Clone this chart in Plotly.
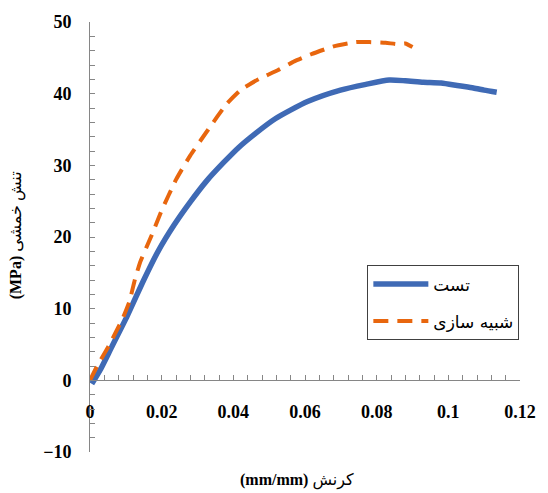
import plotly.graph_objects as go

# Test (experimental) curve
test_strain = [0.0005, 0.003, 0.006, 0.0104, 0.015, 0.019, 0.0235, 0.028, 0.0325, 0.0373,
               0.0415, 0.0463, 0.0517, 0.0607, 0.0699, 0.077, 0.0835, 0.088, 0.093,
               0.098, 0.103, 0.107, 0.110, 0.1135]
test_stress = [-0.5, 1.6, 4.6, 9.0, 14.0, 18.0, 21.7, 24.9, 27.8, 30.4,
               32.5, 34.5, 36.5, 38.9, 40.5, 41.3, 41.9, 41.8, 41.6,
               41.5, 41.1, 40.8, 40.5, 40.2]

# Simulation curve
sim_strain = [0.0, 0.002, 0.005, 0.009, 0.011, 0.0125, 0.014, 0.017, 0.020, 0.024,
              0.028, 0.033, 0.038, 0.042, 0.047, 0.0525, 0.057, 0.0617, 0.068,
              0.0743, 0.078, 0.0825, 0.086, 0.088, 0.090]
sim_stress = [0.0, 2.0, 4.6, 8.5, 11.0, 14.0, 16.5, 20.0, 23.7, 28.0,
              31.4, 35.0, 38.5, 40.5, 42.0, 43.3, 44.5, 45.5, 46.6,
              47.2, 47.2, 47.1, 46.9, 47.0, 46.5]

series_names = ["تست", "شبیه سازی"]
x_ticks = [0, 0.02, 0.04, 0.06, 0.08, 0.1, 0.12]
x_tick_text = ["0", "0.02", "0.04", "0.06", "0.08", "0.1", "0.12"]
y_ticks = [-10, 0, 10, 20, 30, 40, 50]

x_title = "<b>(mm/mm)</b> کرنش"
y_title = "<b>(MPa)</b> تنش خمشی"

fig = go.Figure()
fig.add_trace(go.Scatter(x=test_strain, y=test_stress, mode="lines", name=series_names[0],
                         legendgroup="a",
                         line=dict(color="#3F6AB5", width=5.5, shape="spline", smoothing=0.6)))
fig.add_trace(go.Scatter(x=sim_strain, y=sim_stress, mode="lines", name=series_names[1],
                         legendgroup="b",
                         line=dict(color="#E8660E", width=4, dash="15px,9px",
                                   shape="spline", smoothing=0.4)))

tick_font = dict(family="Liberation Serif", size=18, color="black", weight="bold")

fig.update_layout(
    width=548, height=493,
    margin=dict(l=90, r=17, t=22, b=41),
    paper_bgcolor="white", plot_bgcolor="white",
    showlegend=True,
    legend=dict(x=0.645, y=0.434, xanchor="left", yanchor="top",
                bordercolor="#404040", borderwidth=1, bgcolor="white",
                font=dict(family="DejaVu Sans", size=17, color="black"),
                itemwidth=55, tracegroupgap=12),
    xaxis=dict(range=[0, 0.12], tickvals=x_ticks, ticktext=x_tick_text,
               anchor="free", position=10/60,
               showgrid=False, zeroline=False, showline=True,
               linecolor="#868686", linewidth=1,
               ticks="inside", ticklen=5, tickcolor="#868686",
               minor=dict(dtick=0.004, ticks="inside", ticklen=5, tickcolor="#868686"),
               tickfont=tick_font, ticklabelstandoff=15),
    yaxis=dict(range=[-10, 50], tickvals=y_ticks,
               showgrid=False, zeroline=False, showline=True,
               linecolor="#868686", linewidth=1,
               ticks="inside", ticklen=5, tickcolor="#868686",
               minor=dict(dtick=2, ticks="inside", ticklen=5, tickcolor="#868686"),
               tickfont=tick_font, ticklabelstandoff=14),
    annotations=[
        dict(text=x_title, xref="paper", yref="paper", x=0.481, y=-0.066,
             showarrow=False, xanchor="center", yanchor="middle",
             font=dict(family="Liberation Serif, DejaVu Sans", size=16, color="black")),
        dict(text=y_title, xref="paper", yref="paper", x=-0.172, y=0.504,
             showarrow=False, xanchor="center", yanchor="middle", textangle=-90,
             font=dict(family="Liberation Serif, DejaVu Sans", size=16, color="black")),
    ],
)

fig.write_html("out.html")
